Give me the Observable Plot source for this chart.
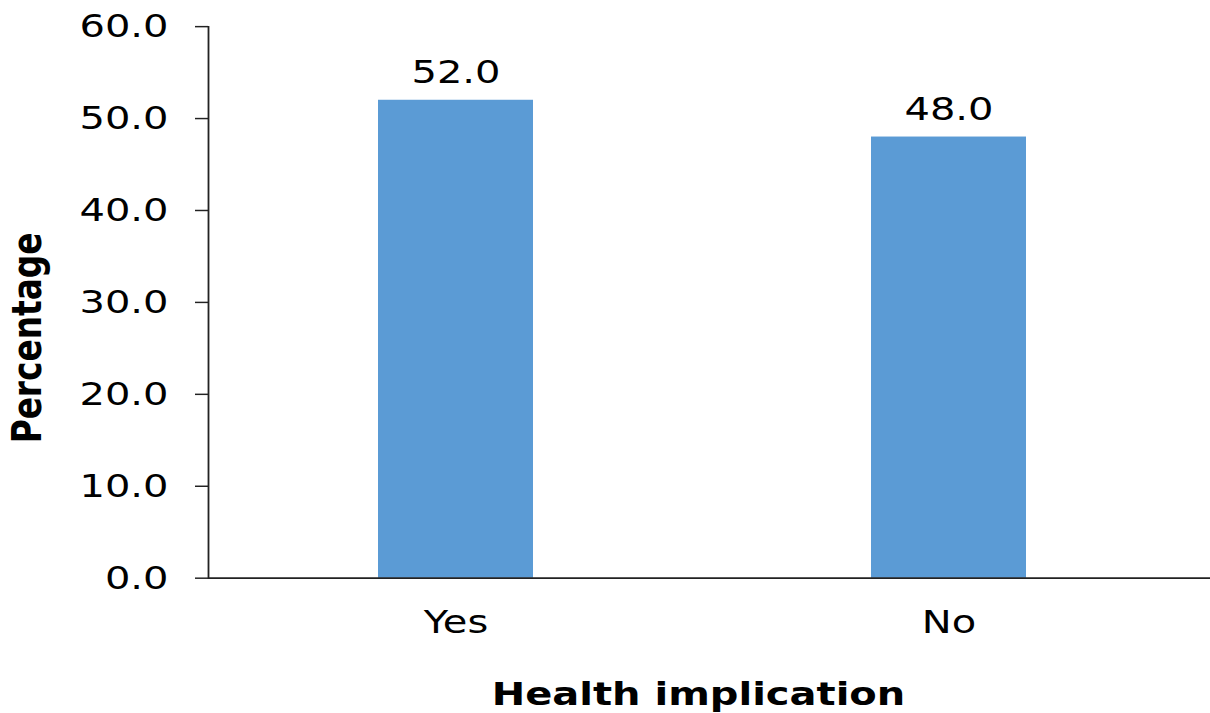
<!DOCTYPE html>
<html>
<head>
<meta charset="utf-8">
<script src="https://cdn.jsdelivr.net/npm/d3@7"></script>
<script src="https://cdn.jsdelivr.net/npm/@observablehq/plot@0.6"></script>
<style>
  html, body { margin: 0; padding: 0; background: #fff; }
  #chart svg { display: block; }
</style>
</head>
<body>
<div id="chart"></div>
<script>
// Share of respondents reporting a health implication
const categories = ["Yes", "No"];
const percentages = [52.0, 48.0];
const yTicks = [0, 10, 20, 30, 40, 50, 60];
const xTitle = "Health implication";
const yTitle = "Percentage";

const data = categories.map((c, i) => ({category: c, value: percentages[i]}));

// Drawn on a taller canvas, then compressed vertically to the page height
const W = 1210, H = 870, PAGE_H = 713;
const ink = "#222";

const chart = Plot.plot({
  width: W,
  height: H,
  marginLeft: 208,
  marginRight: 0,
  marginTop: 32,
  marginBottom: 165,
  style: {fontFamily: "'DejaVu Sans', Verdana, sans-serif", fontSize: "40px", color: "#000", background: "#fff"},
  x: {domain: categories, paddingInner: 0.686, paddingOuter: 0.343, insetLeft: 1, insetRight: 15, label: null},
  y: {domain: [0, 60], label: null},
  marks: [
    Plot.barY(data, {x: "category", y: "value", fill: "#5B9BD5"}),
    Plot.axisY({ticks: yTicks, tickFormat: d => d.toFixed(1), tickSize: 13, tickPadding: 27,
                stroke: ink, strokeWidth: 1.8, fontSize: 40, fill: "#000", label: null}),
    Plot.axisX({tickSize: 0, tickPadding: 39, fontSize: 40, fill: "#000", label: null}),
    Plot.frame({anchor: "left", stroke: ink, strokeWidth: 1.8}),
    Plot.ruleY([0], {stroke: ink, strokeWidth: 2.2}),
    Plot.text(data, {x: "category", y: "value", text: d => d.value.toFixed(1),
                     lineAnchor: "bottom", dy: -21, fontSize: 40, fill: "#000"}),
    Plot.text([yTitle], {text: d => d, frameAnchor: "left", rotate: -90, dx: -180, dy: 172,
                         fontWeight: "bold", fontSize: 40, fill: "#000"}),
    Plot.text([xTitle], {text: d => d, frameAnchor: "bottom", lineAnchor: "middle", dx: -11, dy: 142,
                         fontWeight: "bold", fontSize: 40, fill: "#000"})
  ]
});

chart.setAttribute("viewBox", `0 0 ${W} ${H}`);
chart.setAttribute("width", W);
chart.setAttribute("height", PAGE_H);
chart.setAttribute("preserveAspectRatio", "none");
chart.style.width = W + "px";
chart.style.height = PAGE_H + "px";
chart.style.maxWidth = "none";
document.getElementById("chart").appendChild(chart);
</script>
</body>
</html>
